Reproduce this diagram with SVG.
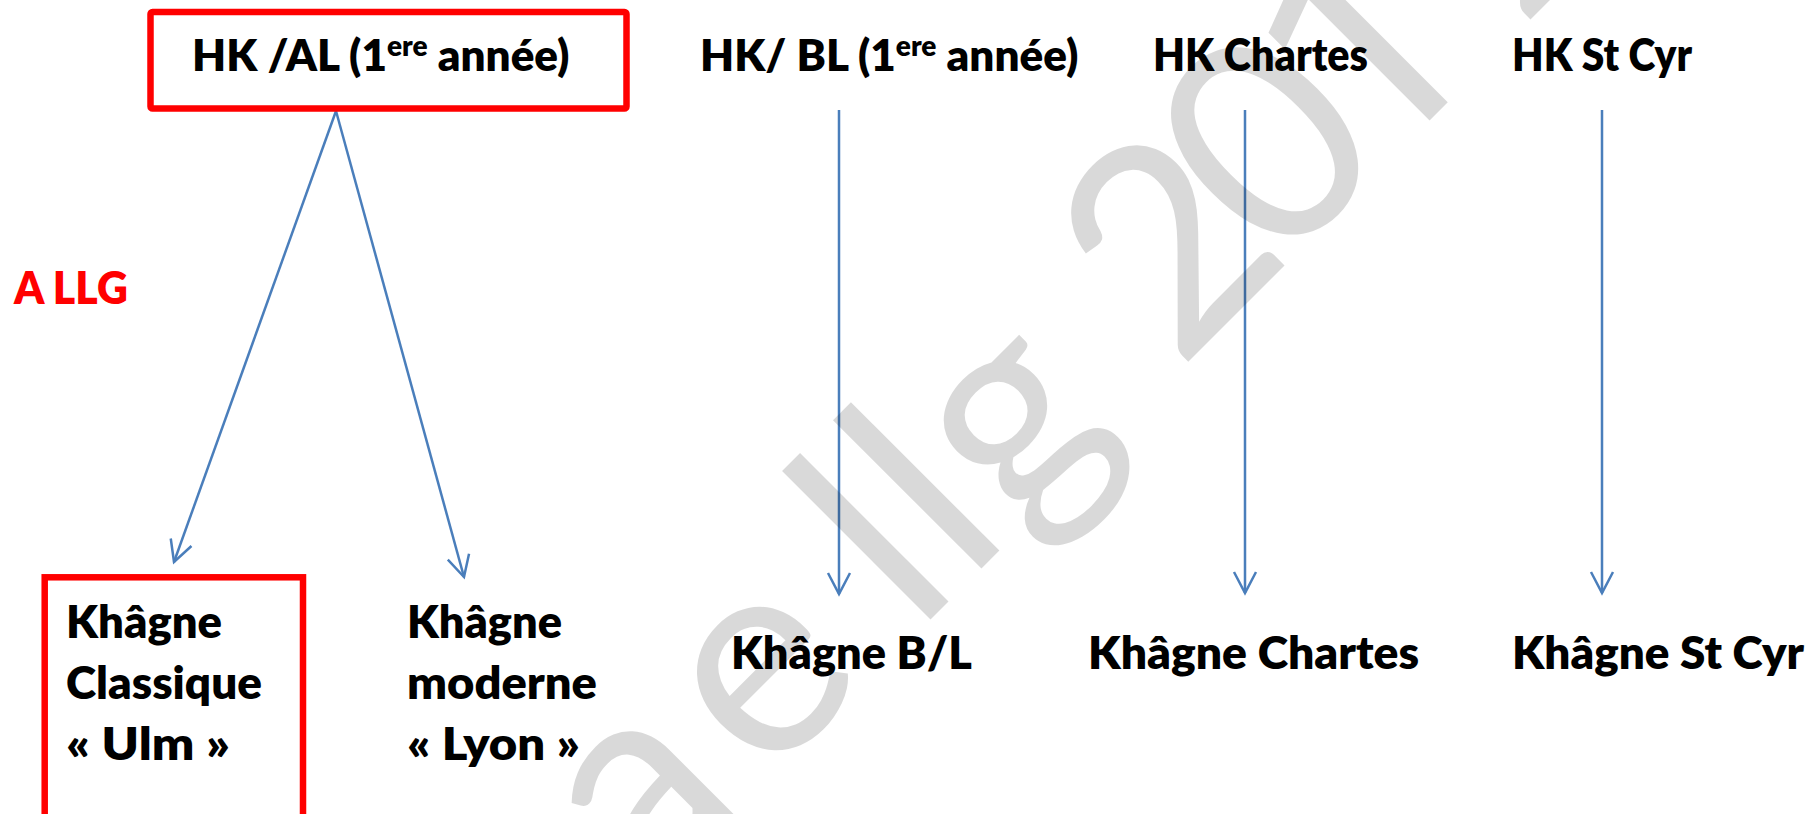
<svg xmlns="http://www.w3.org/2000/svg" width="1809" height="814" viewBox="0 0 1809 814">
  <defs>
    <style>
      .lbl { font-family: Lato, "Liberation Sans", sans-serif; font-weight: 800; font-size: 45px; fill: #000; }
      .top { font-size: 44px; }
      .sup { font-size: 28px; }
      .red { fill: #ff0000; }
      .box { fill: none; stroke: #ff0000; stroke-width: 6.5; }
      .conn { stroke: #4a7ebb; stroke-width: 2.5; fill: none; marker-end: url(#vhead); }
      .wm { font-family: Lato, "Liberation Sans", sans-serif; font-weight: 400; font-size: 285px; fill: #000; fill-opacity: 0.15; }
    </style>
    <marker id="vhead" markerUnits="userSpaceOnUse" markerWidth="40" markerHeight="40" refX="0" refY="0" orient="auto" overflow="visible">
      <path d="M -21 -11 L 0 0 L -21 11" fill="none" stroke="#4a7ebb" stroke-width="2.5"/>
    </marker>
  </defs>
  <rect x="0" y="0" width="1809" height="814" fill="#ffffff"/>

  <g id="connectors">
    <line class="conn" x1="336" y1="111" x2="174" y2="562"/>
    <line class="conn" x1="336" y1="111" x2="464" y2="577"/>
    <line class="conn" x1="839" y1="110" x2="839" y2="594"/>
    <line class="conn" x1="1245" y1="110" x2="1245" y2="593"/>
    <line class="conn" x1="1602" y1="110" x2="1602" y2="593"/>
  </g>

  <g id="hk-al">
    <rect class="box" x="150.5" y="12" width="476" height="96.5" rx="2"/>
    <text class="lbl top" x="192" y="71">HK /AL (1<tspan class="sup" dy="-15">ere</tspan><tspan dy="15"> année)</tspan></text>
  </g>
  <g id="hk-bl">
    <text class="lbl top" x="700" y="71">HK/ BL (1<tspan class="sup" dy="-15">ere</tspan><tspan dy="15"> année)</tspan></text>
  </g>
  <g id="hk-chartes">
    <text class="lbl" x="1153" y="71" textLength="215" lengthAdjust="spacingAndGlyphs">HK Chartes</text>
  </g>
  <g id="hk-stcyr">
    <text class="lbl" x="1512" y="71" textLength="180" lengthAdjust="spacingAndGlyphs">HK St Cyr</text>
  </g>
  <g id="a-llg">
    <text class="lbl red" x="14" y="304" textLength="114" lengthAdjust="spacingAndGlyphs">A LLG</text>
  </g>
  <g id="khagne-classique">
    <rect class="box" x="44.7" y="577.3" width="258.3" height="270"/>
    <text class="lbl" x="66" y="638" textLength="156" lengthAdjust="spacingAndGlyphs">Khâgne</text>
    <text class="lbl" x="66" y="699" textLength="196" lengthAdjust="spacingAndGlyphs">Classique</text>
    <text class="lbl" x="66" y="760" textLength="164" lengthAdjust="spacingAndGlyphs">« Ulm »</text>
  </g>
  <g id="khagne-moderne">
    <text class="lbl" x="407" y="638" textLength="155" lengthAdjust="spacingAndGlyphs">Khâgne</text>
    <text class="lbl" x="407" y="699" textLength="190" lengthAdjust="spacingAndGlyphs">moderne</text>
    <text class="lbl" x="407" y="760" textLength="173" lengthAdjust="spacingAndGlyphs">« Lyon »</text>
  </g>
  <g id="khagne-bl">
    <text class="lbl" x="731" y="669" textLength="241" lengthAdjust="spacingAndGlyphs">Khâgne B/L</text>
  </g>
  <g id="khagne-chartes">
    <text class="lbl" x="1088" y="669" textLength="331" lengthAdjust="spacingAndGlyphs">Khâgne Chartes</text>
  </g>
  <g id="khagne-stcyr">
    <text class="lbl" x="1512" y="669" textLength="292" lengthAdjust="spacingAndGlyphs">Khâgne St Cyr</text>
  </g>

  <g id="watermark" transform="translate(775,775) rotate(-45)">
    <text class="wm" y="0"><tspan x="-180">a</tspan><tspan x="-14">e</tspan><tspan x="199">l</tspan><tspan x="271">l</tspan><tspan x="342">g</tspan><tspan x="571">2</tspan><tspan x="712">0</tspan><tspan x="850" font-family="Roboto, sans-serif">1</tspan><tspan x="1055">2</tspan></text>
  </g>
</svg>
